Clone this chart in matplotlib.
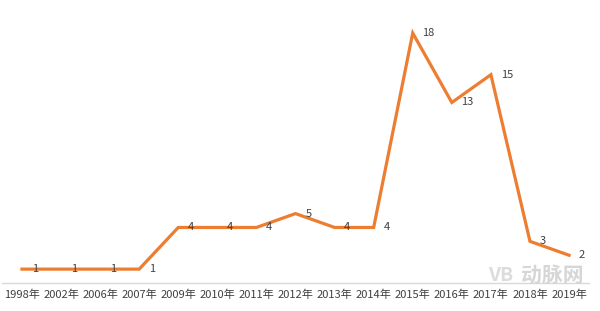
import matplotlib.pyplot as plt

plt.rcParams['font.family'] = ['Noto Sans CJK SC', 'DejaVu Sans']

# годы и значения
years = ["1998年", "2002年", "2006年", "2007年", "2009年", "2010年", "2011年",
         "2012年", "2013年", "2014年", "2015年", "2016年", "2017年", "2018年", "2019年"]
counts = [1, 1, 1, 1, 4, 4, 4, 5, 4, 4, 18, 13, 15, 3, 2]

line_color = "#ED7D31"
text_color = "#404040"

fig = plt.figure(figsize=(6.0, 3.11), dpi=100)
ax = fig.add_axes([0.004, 0.09, 0.977, 0.893])

x = list(range(len(years)))
ax.plot(x, counts, color=line_color, linewidth=2.3, solid_joinstyle="miter")

# подписи значений справа от точек
for xi, v in zip(x, counts):
    ax.annotate(str(v), (xi, v), xytext=(7, 0), textcoords="offset points",
                ha="left", va="center", fontsize=8, color=text_color)

ax.set_xlim(-0.5, len(years) - 0.5)
ax.set_ylim(0, 20)
ax.set_xticks(x)
ax.set_xticklabels(years, fontsize=8, color=text_color)
ax.tick_params(axis="x", length=0, pad=5)
ax.set_yticks([])
for s in ["top", "right", "left"]:
    ax.spines[s].set_visible(False)
ax.spines["bottom"].set_color("#D9D9D9")
ax.spines["bottom"].set_linewidth(1)

# водяной знак
fig.text(0.92, 0.115, "动脉网", fontsize=15, color="#d6d6d6", ha="center",
         va="center", fontweight="bold", zorder=0)
fig.text(0.835, 0.115, "VB", fontsize=14, color="#dcdcdc", ha="center",
         va="center", fontweight="bold", zorder=0)

fig.savefig("out.png", dpi=100)
